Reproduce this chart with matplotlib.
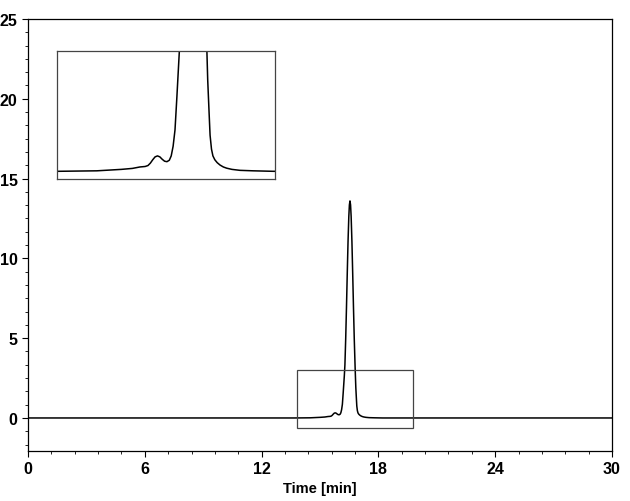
import matplotlib
matplotlib.use("Agg")
import matplotlib.pyplot as plt
from matplotlib.patches import Rectangle
from matplotlib.ticker import MultipleLocator

# Chromatogram trace (time in min, signal)
time = [0.0, 5.0, 10.0, 13.68, 14.5, 15.02, 15.25, 15.41, 15.52, 15.58, 15.63,
        15.68, 15.73, 15.78, 15.83, 15.88, 15.93, 15.98, 16.03, 16.07, 16.11,
        16.15, 16.19, 16.22, 16.25, 16.28, 16.32, 16.36, 16.40, 16.44, 16.48,
        16.51, 16.54, 16.57, 16.60, 16.64, 16.68, 16.72, 16.76, 16.80, 16.82,
        16.84, 16.87, 16.89, 16.92, 16.95, 16.99, 17.04, 17.10, 17.17, 17.24,
        17.35, 17.52, 17.80, 18.22, 20.0, 25.0, 30.0]
signal = [0.0, 0.0, 0.0, 0.0, 0.01, 0.04, 0.06, 0.09, 0.10, 0.12, 0.17,
          0.24, 0.30, 0.32, 0.30, 0.25, 0.21, 0.20, 0.23, 0.32, 0.52,
          0.86, 1.55, 2.10, 2.65, 3.33, 4.96, 6.92, 9.04, 11.05, 12.62,
          13.35, 13.60, 13.35, 12.62, 11.05, 9.04, 6.92, 4.96, 3.33, 2.60,
          1.90, 1.20, 0.75, 0.46, 0.32, 0.24, 0.18, 0.13, 0.09, 0.065,
          0.04, 0.02, 0.01, 0.0, 0.0, 0.0, 0.0]

x_ticks = [0, 6, 12, 18, 24, 30]
y_ticks = [0, 5, 10, 15, 20, 25]

plt.rcParams['font.family'] = ['Liberation Sans', 'DejaVu Sans']

fig = plt.figure(figsize=(6.30, 5.02), dpi=100)
ax = fig.add_axes([28/630, 50/502, 584/630, 432/502])
ax.plot(time, signal, color='black', lw=1.1)
ax.set_xlim(0, 30)
ax.set_ylim(-2.07, 25)
ax.set_xticks(x_ticks)
ax.set_yticks(y_ticks)
ax.xaxis.set_minor_locator(MultipleLocator(1.2))
ax.yaxis.set_minor_locator(MultipleLocator(5/6))
ax.tick_params(which='major', direction='out', length=4, width=0.8, pad=3.5,
               labelsize=11.5)
ax.tick_params(which='minor', direction='out', length=2.5, width=0.6)
for lab in ax.get_xticklabels() + ax.get_yticklabels():
    lab.set_fontweight('bold')
ax.set_xlabel('Time [min]', fontsize=10.5, fontweight='bold', labelpad=3)
for sp in ax.spines.values():
    sp.set_linewidth(0.9)

# zoom rectangle in the main plot
ax.add_patch(Rectangle((13.8, -0.63), 6.0, 3.63, fill=False,
                       edgecolor='#444444', lw=0.9, zorder=3))

# inset
ins = fig.add_axes([57/630, 322/502, 218/630, 128/502])
ins.plot(time, signal, color='black', lw=1.1)
ins.set_xlim(13.66, 18.26)
ins.set_ylim(-0.16, 2.5)
ins.set_xticks([])
ins.set_yticks([])
for sp in ins.spines.values():
    sp.set_linewidth(0.9)
    sp.set_edgecolor('#444444')

fig.savefig('out.png', dpi=100)
